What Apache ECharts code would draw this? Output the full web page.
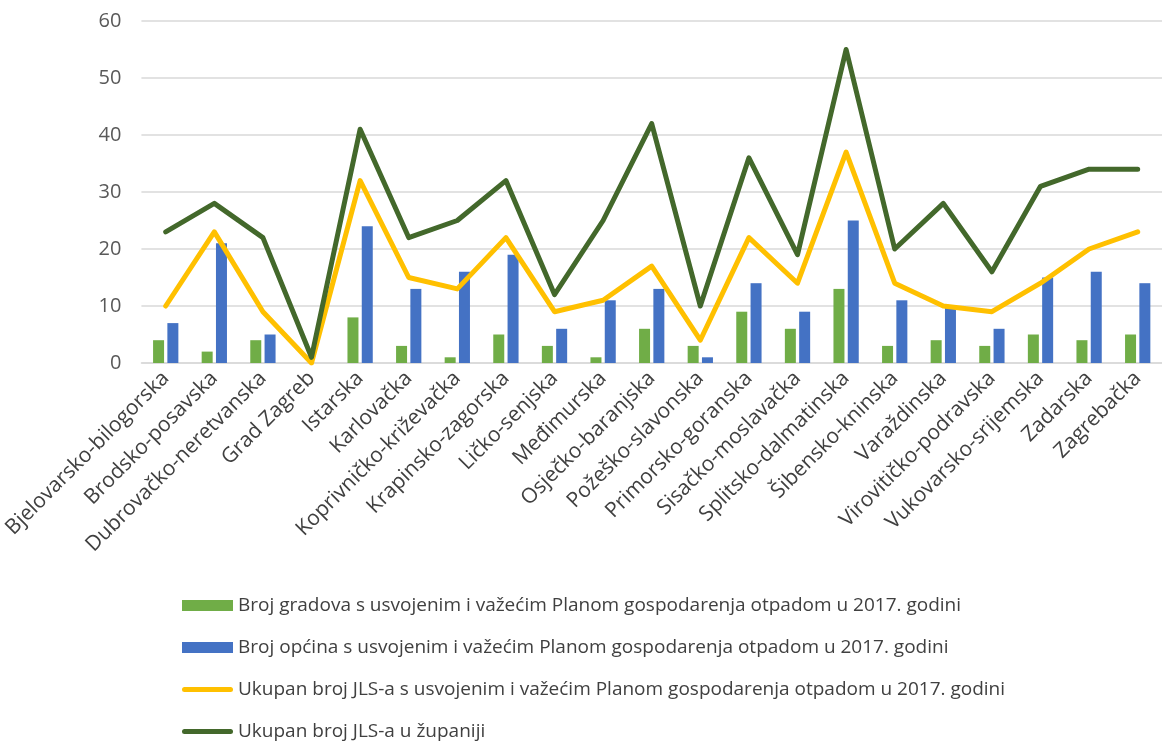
<!DOCTYPE html>
<html><head><meta charset="utf-8">
<script src="https://cdn.jsdelivr.net/npm/echarts@6/dist/echarts.min.js"></script>
<style>html,body{margin:0;padding:0;background:#fff}#c{width:1162px;height:742px}</style>
</head><body><div id="c"></div>
<script>
const categories = ["Bjelovarsko-bilogorska","Brodsko-posavska","Dubrovačko-neretvanska","Grad Zagreb","Istarska","Karlovačka","Koprivničko-križevačka","Krapinsko-zagorska","Ličko-senjska","Međimurska","Osječko-baranjska","Požeško-slavonska","Primorsko-goranska","Sisačko-moslavačka","Splitsko-dalmatinska","Šibensko-kninska","Varaždinska","Virovitičko-podravska","Vukovarsko-srijemska","Zadarska","Zagrebačka"];
const gradovi = [4,2,4,0,8,3,1,5,3,1,6,3,9,6,13,3,4,3,5,4,5];
const opcine = [7,21,5,0,24,13,16,19,6,11,13,1,14,9,25,11,10,6,15,16,14];
const ukupnoPlan = [10,23,9,0,32,15,13,22,9,11,17,4,22,14,37,14,10,9,14,20,23];
const ukupnoJLS = [23,28,22,1,41,22,25,32,12,25,42,10,36,19,55,20,28,16,31,34,34];
const yTicks = {min:0, max:60, interval:10};
const names = [
 "Broj gradova s usvojenim i važećim Planom gospodarenja otpadom u 2017. godini",
 "Broj općina s usvojenim i važećim Planom gospodarenja otpadom u 2017. godini",
 "Ukupan broj JLS-a s usvojenim i važećim Planom gospodarenja otpadom u 2017. godini",
 "Ukupan broj JLS-a u županiji"
];
const font = "'Open Sans', 'Noto Sans', sans-serif";
const lineIcon = 'path://M2.5,0 L48.5,0 A2.5,2.5 0 0 1 48.5,5 L2.5,5 A2.5,2.5 0 0 1 2.5,0 Z';
const chart = echarts.init(document.getElementById('c'), null, {renderer:'canvas'});
chart.setOption({
  animation:false,
  textStyle:{fontFamily:font},
  grid:{left:139, width:1030, top:21, height:342, containLabel:false},
  legend:{
    orient:'vertical', left:177, top:591, height:160, itemGap:23, itemWidth:51, itemHeight:11,
    textStyle:{fontSize:19, color:'#404040', fontFamily:font},
    data:[
      {name:names[0], icon:'rect'},
      {name:names[1], icon:'rect'},
      {name:names[2], icon:lineIcon},
      {name:names[3], icon:lineIcon}
    ]
  },
  xAxis:{
    type:'category', data:categories,
    axisLine:{show:true, lineStyle:{color:'#d9d9d9', width:1.5}},
    axisTick:{show:false},
    axisLabel:{rotate:45, interval:0, fontSize:21, color:'#404040', margin:12, fontFamily:font}
  },
  yAxis:{
    type:'value', min:yTicks.min, max:yTicks.max, interval:yTicks.interval,
    axisLine:{show:false}, axisTick:{show:false},
    axisLabel:{fontSize:20, color:'#595959', margin:20, fontFamily:font},
    splitLine:{lineStyle:{color:'#d9d9d9', width:1.5}}
  },
  series:[
    {name:names[0], type:'bar', data:gradovi, barWidth:11, barGap:'30%', itemStyle:{color:'#70ad47'}},
    {name:names[1], type:'bar', data:opcine, barWidth:11, barGap:'30%', itemStyle:{color:'#4472c4'}},
    {name:names[2], type:'line', data:ukupnoPlan, symbol:'none', lineStyle:{color:'#ffc000', width:5, cap:'round', join:'round'}, itemStyle:{color:'#ffc000'}},
    {name:names[3], type:'line', data:ukupnoJLS, symbol:'none', lineStyle:{color:'#43682b', width:5, cap:'round', join:'round'}, itemStyle:{color:'#43682b'}}
  ]
});
</script></body></html>
